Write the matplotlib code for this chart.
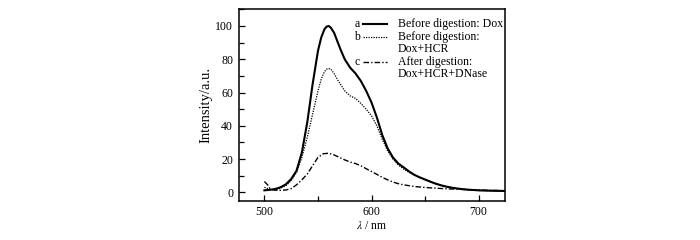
import matplotlib
matplotlib.use("Agg")
import matplotlib.pyplot as plt
from matplotlib.ticker import MultipleLocator

# emission spectra
wl_a = [500, 505, 510, 515, 520, 525, 530, 535, 540, 545, 550, 553, 556, 558, 560, 562, 565, 568, 571,
        575, 580, 585, 590, 595, 600, 605, 610, 615, 620, 625, 630, 635, 640, 645,
        650, 655, 660, 665, 670, 675, 680, 685, 690, 695, 700, 710, 725]
dox = [1.2, 1.5, 2.0, 3.0, 4.8, 8.0, 13, 24, 42, 65, 85, 93, 98, 99.6, 100, 99, 96, 91, 86,
       80, 75, 71.5, 67, 61, 54, 45, 34.5, 26.5, 21, 17.3, 15, 12.6, 10.5, 9,
       7.7, 6.4, 5.2, 4.2, 3.4, 2.8, 2.3, 1.9, 1.6, 1.4, 1.2, 1.0, 0.8]

wl_b = [500, 505, 510, 515, 520, 525, 530, 535, 540, 545, 550, 553, 556, 558, 560, 562, 565, 568, 571,
        575, 580, 585, 590, 595, 600, 605, 610, 615, 620, 625, 630, 635, 640, 645,
        650, 655, 660, 665, 670, 675, 680, 685, 690, 695, 700, 710, 725]
dox_hcr = [3.0, 1.8, 1.5, 2.5, 4.0, 7.0, 12, 21, 33, 47, 61, 68, 72.5, 74, 74.5, 74, 71.5, 68, 65,
           61, 58, 56.5, 53.5, 50, 46, 40, 32, 25, 20, 16.5, 14, 12, 10.3, 8.8,
           7.5, 6.3, 5.1, 4.1, 3.3, 2.7, 2.2, 1.8, 1.5, 1.3, 1.1, 0.9, 0.8]

wl_c = [500, 503, 505, 508, 510, 515, 520, 525, 530, 535, 540, 545, 550, 555, 560,
        565, 570, 575, 580, 585, 590, 595, 600, 605, 610, 615, 620, 625, 630, 635,
        640, 645, 650, 660, 670, 680, 690, 700, 710, 725]
dox_hcr_dnase = [6.5, 4.5, 2.5, 1.5, 1.3, 1.2, 1.4, 2.2, 4.5, 7.5, 11, 16, 21, 23.2, 23.5,
                 22.5, 21, 19.5, 18.2, 17.3, 16, 14.2, 12.5, 10.8, 9, 7.5, 6.2, 5.2, 4.5, 4,
                 3.5, 3.2, 2.9, 2.5, 2.1, 1.9, 1.6, 1.4, 1.2, 1.0]

letters = ["a", "b", "c"]
labels = [["Before digestion: Dox"], ["Before digestion:", "Dox+HCR"], ["After digestion:", "Dox+HCR+DNase"]]

plt.rcParams['font.family'] = ['Liberation Serif', 'DejaVu Serif']
plt.rcParams['mathtext.fontset'] = 'stix'

fig = plt.figure(figsize=(7, 2.4), dpi=100)
ax = fig.add_axes([0.341, 0.164, 0.381, 0.797])

ax.plot(wl_a, dox, color='black', lw=1.5, ls='-')
ax.plot(wl_b, dox_hcr, color='black', lw=0.9, ls=(0, (1, 1)))
ax.plot(wl_c, dox_hcr_dnase, color='black', lw=1.0, ls=(0, (4, 1.5, 1, 1.5)))

ax.set_xlim(476, 725)
ax.set_ylim(-5, 110)
ax.xaxis.set_major_locator(MultipleLocator(100))
ax.xaxis.set_minor_locator(MultipleLocator(50))
ax.yaxis.set_major_locator(MultipleLocator(20))
ax.yaxis.set_minor_locator(MultipleLocator(10))
ax.tick_params(which='both', direction='in', labelsize=8.5, width=0.9)
ax.tick_params(which='major', length=4, pad=4)
ax.tick_params(which='minor', length=3.5)
for s in ax.spines.values():
    s.set_linewidth(1.1)

ax.set_ylabel("Intensity/a.u.", fontsize=10.5, labelpad=2)
ax.set_xlabel(r"$\lambda$ / nm", fontsize=8.5, labelpad=1)

# legend drawn by hand (letter, sample line, text)
styles = [dict(lw=1.5, ls='-'), dict(lw=0.9, ls=(0, (1, 1))), dict(lw=1.0, ls=(0, (4, 1.5, 1, 1.5)))]
rows = [0.923, 0.857, 0.726]
step = 0.066
for letter, lines, st, y in zip(letters, labels, styles, rows):
    ax.text(0.454, y, letter, transform=ax.transAxes, ha='right', va='center', fontsize=8.5)
    ax.plot([0.466, 0.556], [y, y], transform=ax.transAxes, color='black', clip_on=False, **st)
    for k, line in enumerate(lines):
        ax.text(0.596, y - k * step, line, transform=ax.transAxes, ha='left', va='center',
                fontsize=8.5)

fig.savefig("out.png", dpi=100)
